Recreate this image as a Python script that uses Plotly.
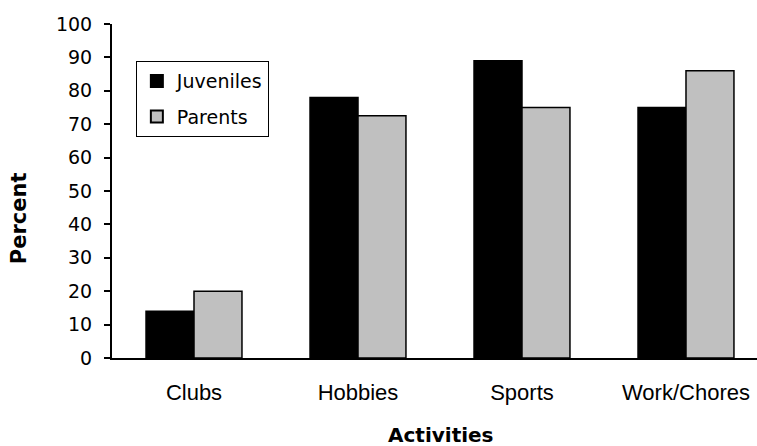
import plotly.graph_objects as go

categories = ["Clubs", "Hobbies", "Sports", "Work/Chores"]
juveniles = [14, 78, 89, 75]
parents = [20, 72.5, 75, 86]
y_ticks = [0, 10, 20, 30, 40, 50, 60, 70, 80, 90, 100]

font_main = "Verdana, DejaVu Sans, sans-serif"

fig = go.Figure()
fig.add_trace(go.Bar(name="Juveniles", x=categories, y=juveniles, legendgroup="j",
                     marker=dict(color="#000000", line=dict(color="#000000", width=1.5))))
fig.add_trace(go.Bar(name="Parents", x=categories, y=parents, legendgroup="p",
                     marker=dict(color="#C0C0C0", line=dict(color="#000000", width=1.5))))

fig.update_layout(
    width=757, height=446,
    margin=dict(l=112, r=0, t=24, b=88),
    paper_bgcolor="white", plot_bgcolor="white",
    barmode="group", bargap=0.415, bargroupgap=0,
    font=dict(family=font_main, size=16, color="black"),
    showlegend=True,
    legend=dict(x=0.037, y=0.889, xanchor="left", yanchor="top",
                bordercolor="black", borderwidth=1, bgcolor="white",
                font=dict(family=font_main, size=19),
                itemsizing="constant", tracegroupgap=8, traceorder="grouped"),
    xaxis=dict(
        range=[-0.5, 3.433],
        showline=True, linecolor="black", linewidth=2,
        ticks="", showgrid=False,
        tickfont=dict(family="Liberation Sans, Arial, sans-serif", size=22),
        ticklabelstandoff=14,
    ),
    yaxis=dict(
        range=[0, 100], tickvals=y_ticks,
        showline=True, linecolor="black", linewidth=2,
        ticks="outside", ticklen=6, tickwidth=2, tickcolor="black",
        showgrid=False, zeroline=False,
        tickfont=dict(family=font_main, size=19),
        ticklabelstandoff=8,
    ),
    annotations=[
        dict(text="<b>Percent</b>", xref="paper", yref="paper", x=-0.144, y=0.419,
             textangle=-90, showarrow=False, xanchor="center", yanchor="middle",
             font=dict(family=font_main, size=21)),
        dict(text="<b>Activities</b>", xref="paper", yref="paper", x=0.51, y=-0.2305,
             showarrow=False, xanchor="center", yanchor="middle",
             font=dict(family=font_main, size=20)),
    ],
)

fig.write_html("out.html")
